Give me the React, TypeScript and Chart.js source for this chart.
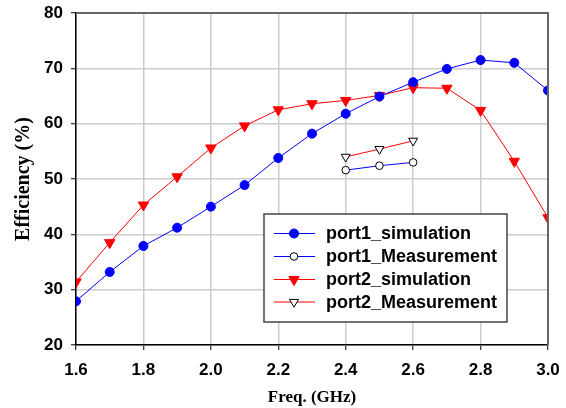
import React, { useEffect, useRef } from "react";
import { Chart, registerables } from "chart.js";

Chart.register(...registerables);

const freqs = [1.6, 1.7, 1.8, 1.9, 2.0, 2.1, 2.2, 2.3, 2.4, 2.5, 2.6, 2.7, 2.8, 2.9, 3.0];
const port1Sim = [27.9, 33.2, 37.9, 41.2, 45.0, 48.9, 53.8, 58.2, 61.8, 64.9, 67.5, 69.9, 71.5, 71.0, 66.0];
const port2Sim = [31.4, 38.5, 45.3, 50.4, 55.6, 59.6, 62.5, 63.6, 64.2, 65.1, 66.5, 66.4, 62.4, 53.2, 43.0];
const measFreqs = [2.4, 2.5, 2.6];
const port1Meas = [51.6, 52.4, 53.0];
const port2Meas = [54.0, 55.4, 56.9];
const seriesNames = ["port1_simulation", "port1_Measurement", "port2_simulation", "port2_Measurement"];
const xTicks = [1.6, 1.8, 2.0, 2.2, 2.4, 2.6, 2.8, 3.0];

const toXY = (xs: number[], ys: number[]) => xs.map((x, i) => ({ x, y: ys[i] }));

const tickFont = { family: "'Liberation Sans', Arial, sans-serif", size: 17, weight: "bold" as const };
const titleFont = { family: "'Liberation Serif', 'Times New Roman', serif", size: 17, weight: "bold" as const };

function drawMarker(ctx: CanvasRenderingContext2D, style: string, x: number, y: number, r: number, fill: string, stroke: string) {
  ctx.save();
  ctx.beginPath();
  if (style === "circle") {
    ctx.arc(x, y, r, 0, Math.PI * 2);
  } else {
    let rad = Math.PI;
    ctx.moveTo(x + Math.sin(rad) * r, y - Math.cos(rad) * r);
    rad += (2 * Math.PI) / 3;
    ctx.lineTo(x + Math.sin(rad) * r, y - Math.cos(rad) * r);
    rad += (2 * Math.PI) / 3;
    ctx.lineTo(x + Math.sin(rad) * r, y - Math.cos(rad) * r);
    ctx.closePath();
  }
  ctx.fillStyle = fill;
  ctx.fill();
  ctx.lineWidth = 1;
  ctx.strokeStyle = stroke;
  ctx.stroke();
  ctx.restore();
}

const framePlugin = {
  id: "frameAndLegend",
  afterDraw(chart: any) {
    const { ctx, chartArea } = chart;
    const { left, right, top, bottom } = chartArea;
    ctx.save();
    ctx.strokeStyle = "#666666";
    ctx.lineWidth = 2;
    ctx.beginPath();
    ctx.moveTo(left, top);
    ctx.lineTo(right, top);
    ctx.lineTo(right, bottom);
    ctx.stroke();
    ctx.restore();

    const bx = 264, by = 214, bw = 243, bh = 108;
    ctx.save();
    ctx.fillStyle = "#ffffff";
    ctx.fillRect(bx, by, bw, bh);
    ctx.strokeStyle = "#444444";
    ctx.lineWidth = 1.5;
    ctx.strokeRect(bx, by, bw, bh);
    const rows = [233.5, 256.5, 279.5, 302];
    chart.data.datasets.forEach((ds: any, i: number) => {
      const y = rows[i];
      ctx.strokeStyle = ds.borderColor;
      ctx.lineWidth = 1;
      ctx.beginPath();
      ctx.moveTo(274, y);
      ctx.lineTo(315, y);
      ctx.stroke();
      drawMarker(ctx, ds.pointStyle === "circle" ? "circle" : "tri", 294, y, ds.pointRadius, ds.pointBackgroundColor, ds.pointBorderColor);
      ctx.fillStyle = "#000000";
      ctx.font = "bold 18px 'Liberation Sans', Arial, sans-serif";
      ctx.textBaseline = "middle";
      ctx.textAlign = "left";
      ctx.fillText(ds.label, 326, y + 1);
    });
    ctx.restore();
  },
};

const zeroPad = (axis: any) => {
  axis.paddingLeft = 0;
  axis.paddingRight = 0;
  axis.paddingTop = 0;
  axis.paddingBottom = 0;
};

export default function App() {
  const ref = useRef<HTMLCanvasElement | null>(null);
  useEffect(() => {
    document.body.style.margin = "0";
    const canvas = ref.current!;
    const chart = new Chart(canvas, {
      type: "line",
      data: {
        datasets: [
          {
            label: seriesNames[0],
            data: toXY(freqs, port1Sim),
            borderColor: "#0000ff",
            borderWidth: 1,
            pointStyle: "circle",
            pointRadius: 4.5,
            pointBackgroundColor: "#0000ff",
            pointBorderColor: "#0000ff",
          },
          {
            label: seriesNames[1],
            data: toXY(measFreqs, port1Meas),
            borderColor: "#0000ff",
            borderWidth: 1,
            pointStyle: "circle",
            pointRadius: 3.8,
            pointBackgroundColor: "#ffffff",
            pointBorderColor: "#000000",
          },
          {
            label: seriesNames[2],
            data: toXY(freqs, port2Sim),
            borderColor: "#ff0000",
            borderWidth: 1,
            pointStyle: "triangle",
            rotation: 180,
            pointRadius: 6,
            pointBackgroundColor: "#ff0000",
            pointBorderColor: "#ff0000",
          },
          {
            label: seriesNames[3],
            data: toXY(measFreqs, port2Meas),
            borderColor: "#ff0000",
            borderWidth: 1,
            pointStyle: "triangle",
            rotation: 180,
            pointRadius: 5.2,
            pointBackgroundColor: "#ffffff",
            pointBorderColor: "#000000",
          },
        ] as any,
      },
      options: {
        responsive: false,
        animation: false,
        layout: { padding: { top: 13, right: 18, left: 0, bottom: 0 } },
        plugins: {
          legend: { display: false },
          tooltip: { enabled: false },
        },
        scales: {
          x: {
            type: "linear",
            min: 1.6,
            max: 3.0,
            afterBuildTicks: (axis: any) => {
              axis.ticks = xTicks.map((v) => ({ value: v }));
            },
            afterFit: (axis: any) => {
              axis.height = 63;
              zeroPad(axis);
            },
            ticks: {
              color: "#000000",
              font: tickFont,
              padding: 10,
              maxRotation: 0,
              callback: (v: any) => Number(v).toFixed(1),
            },
            grid: {
              color: "#cccccc",
              lineWidth: 1.5,
              tickColor: "#000000",
              tickLength: 5,
              tickWidth: 1,
            },
            border: { color: "#000000", width: 1.5 },
            title: {
              display: true,
              text: "Freq. (GHz)",
              color: "#000000",
              font: titleFont,
              padding: { top: 2, bottom: 0 },
            },
          },
          y: {
            min: 20,
            max: 80,
            afterFit: (axis: any) => {
              axis.width = 76;
              zeroPad(axis);
            },
            ticks: {
              stepSize: 10,
              color: "#000000",
              font: tickFont,
              padding: 8,
            },
            grid: {
              color: "#cccccc",
              lineWidth: 1.5,
              tickColor: "#000000",
              tickLength: 5,
              tickWidth: 1,
            },
            border: { color: "#000000", width: 1.5 },
            title: {
              display: true,
              text: "Efficiency (%)",
              color: "#000000",
              font: { ...titleFont, size: 20 },
              padding: { top: 12, bottom: 0 },
            },
          },
        },
      } as any,
      plugins: [framePlugin],
    });
    return () => chart.destroy();
  }, []);
  return <canvas ref={ref} width={566} height={408} style={{ display: "block" }} />;
}
